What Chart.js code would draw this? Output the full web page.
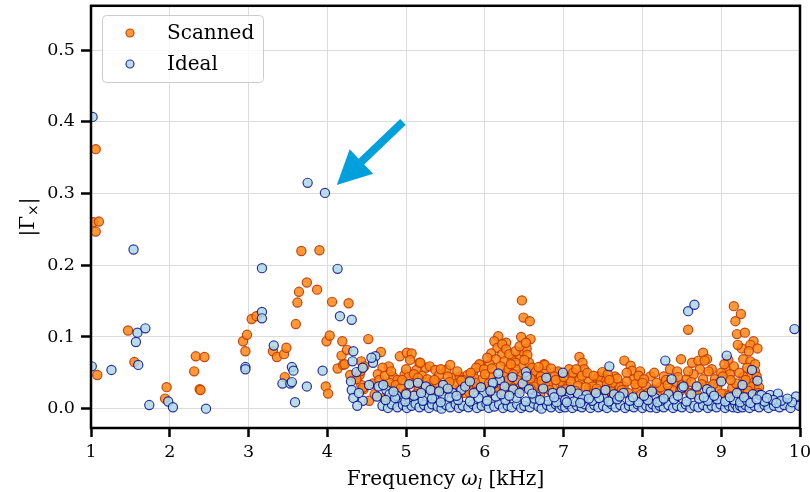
<!DOCTYPE html>
<html>
<head>
<meta charset="utf-8">
<script src="https://cdn.jsdelivr.net/npm/chart.js@4.4.0/dist/chart.umd.min.js"></script>
<style>
  html, body { margin: 0; padding: 0; background: #fff; }
</style>
</head>
<body>
<canvas id="grafico" width="810" height="492"></canvas>
<script>
// Nombres de las series y ticks de los ejes
const nombres = ['Scanned', 'Ideal'];
const ticksX = [1, 2, 3, 4, 5, 6, 7, 8, 9, 10];
const ticksY = [0.0, 0.1, 0.2, 0.3, 0.4, 0.5];

// |Γx| frente a la frecuencia (kHz), pares [x, y]
const scanned = [
  [1.03, 0.260], [1.06, 0.362], [1.06, 0.247], [1.08, 0.047], [1.10, 0.261], [1.47, 0.109], [1.55, 0.065],
  [1.94, 0.014], [1.96, 0.030], [2.31, 0.052], [2.33, 0.073], [2.38, 0.027], [2.39, 0.026], [2.44, 0.072],
  [2.93, 0.094], [2.96, 0.080], [2.98, 0.103], [3.04, 0.125], [3.10, 0.129], [3.31, 0.080], [3.36, 0.072],
  [3.45, 0.076], [3.46, 0.044], [3.48, 0.085], [3.60, 0.118], [3.62, 0.148], [3.64, 0.163], [3.67, 0.220],
  [3.74, 0.176], [3.87, 0.166], [3.90, 0.221], [3.98, 0.031], [3.99, 0.094], [4.01, 0.021], [4.03, 0.102],
  [4.06, 0.149], [4.13, 0.056], [4.18, 0.074], [4.19, 0.094], [4.20, 0.061], [4.25, 0.082], [4.27, 0.147],
  // 4.2 - 6 kHz
  [4.29, 0.047], [4.41, 0.047], [4.43, 0.033], [4.46, 0.027], [4.53, 0.011], [4.52, 0.097], [4.68, 0.079],
  [4.92, 0.073], [5.01, 0.078], [5.07, 0.077], [5.05, 0.068], [5.17, 0.064], [4.78, 0.059], [4.70, 0.057],
  [4.64, 0.048], [4.43, 0.066], [4.47, 0.059], [4.42, 0.052], [4.37, 0.041], [4.45, 0.029], [4.22, 0.062],
  [4.83, 0.045], [4.89, 0.040], [4.98, 0.047], [5.13, 0.054], [5.25, 0.057], [5.30, 0.059], [5.37, 0.054],
  [5.42, 0.047], [5.51, 0.054], [5.56, 0.061], [5.59, 0.043], [5.68, 0.045], [5.78, 0.047], [5.85, 0.050],
  [5.94, 0.061], [5.08, 0.036], [5.21, 0.031], [5.32, 0.038], [5.47, 0.033], [5.76, 0.033], [5.63, 0.026],
  [4.75, 0.031], [4.79, 0.036], [4.85, 0.026], [5.18, 0.064],
  [4.58, 0.035], [4.66, 0.040], [4.73, 0.046], [4.81, 0.052], [4.87, 0.033], [4.93, 0.028], [5.00, 0.055],
  [5.03, 0.044], [5.10, 0.048], [5.16, 0.027], [5.20, 0.046], [5.27, 0.041], [5.33, 0.028], [5.39, 0.036],
  [5.44, 0.055], [5.49, 0.025], [5.53, 0.045], [5.61, 0.034], [5.65, 0.052], [5.72, 0.040], [5.74, 0.022],
  [5.83, 0.029], [5.87, 0.042], [5.96, 0.030],
  // 6 - 7 kHz
  [6.47, 0.151], [6.49, 0.127], [6.57, 0.122], [6.46, 0.100], [6.58, 0.097], [6.17, 0.101], [6.12, 0.094],
  [6.27, 0.092], [6.16, 0.085], [6.08, 0.077], [6.22, 0.076], [6.14, 0.069], [6.25, 0.066], [6.06, 0.062],
  [6.35, 0.069], [6.44, 0.073], [6.48, 0.080], [6.53, 0.084], [6.39, 0.064], [6.48, 0.059], [5.93, 0.062],
  [5.89, 0.057], [5.82, 0.050], [6.75, 0.062], [6.78, 0.052], [6.92, 0.051], [6.67, 0.045], [6.82, 0.041],
  [5.97, 0.041], [6.10, 0.045], [6.27, 0.050], [6.44, 0.048], [6.60, 0.050], [6.65, 0.036], [6.86, 0.029],
  [6.99, 0.031], [6.77, 0.031], [6.52, 0.034], [6.65, 0.022], [6.22, 0.090], [6.27, 0.083], [6.31, 0.076],
  [6.39, 0.080], [6.44, 0.087], [6.52, 0.092], [6.54, 0.075], [6.20, 0.059], [6.30, 0.055], [6.39, 0.055],
  [6.03, 0.071], [5.99, 0.055], [6.56, 0.064], [6.60, 0.057], [6.65, 0.052], [6.76, 0.061], [6.93, 0.052],
  [6.00, 0.048], [6.04, 0.022], [6.09, 0.056], [6.15, 0.038], [6.19, 0.030], [6.24, 0.045], [6.28, 0.035],
  [6.33, 0.062], [6.36, 0.048], [6.41, 0.040], [6.45, 0.030], [6.50, 0.068], [6.55, 0.040], [6.62, 0.031],
  [6.68, 0.058], [6.71, 0.045], [6.80, 0.034], [6.84, 0.056], [6.88, 0.045], [6.97, 0.038],
  // 7 - 8 kHz
  [7.07, 0.055], [7.20, 0.072], [7.24, 0.064], [7.26, 0.055], [7.11, 0.045], [7.20, 0.041], [7.32, 0.038],
  [7.43, 0.043], [7.47, 0.036], [7.32, 0.027], [7.07, 0.022], [7.12, 0.050], [7.05, 0.031], [7.16, 0.055],
  [7.77, 0.067], [7.85, 0.060], [7.87, 0.053], [7.97, 0.052], [7.65, 0.045], [7.89, 0.041], [7.93, 0.029],
  [7.76, 0.031], [7.51, 0.043], [7.55, 0.034], [7.63, 0.027], [7.53, 0.022], [7.44, 0.045], [7.37, 0.031],
  [7.71, 0.031], [7.03, 0.027], [7.09, 0.038], [7.18, 0.032], [7.23, 0.046], [7.30, 0.050], [7.35, 0.020],
  [7.42, 0.028], [7.49, 0.051], [7.56, 0.048], [7.62, 0.036], [7.68, 0.042], [7.74, 0.026], [7.80, 0.050],
  [7.91, 0.034], [7.95, 0.046],
  // 8 - 9.5 kHz
  [8.10, 0.045], [8.05, 0.031], [8.58, 0.110], [8.49, 0.069], [8.35, 0.055], [8.27, 0.045], [8.44, 0.052],
  [8.63, 0.064], [8.71, 0.067], [8.77, 0.078], [8.82, 0.069], [8.73, 0.055], [8.56, 0.041], [8.41, 0.036],
  [8.65, 0.048], [8.77, 0.041], [8.82, 0.031], [8.14, 0.027], [8.27, 0.024], [8.20, 0.017], [8.79, 0.067],
  [8.88, 0.055], [8.92, 0.041], [9.07, 0.055], [9.16, 0.059], [9.09, 0.068], [9.14, 0.029], [9.05, 0.020],
  [8.97, 0.036], [9.16, 0.143], [9.25, 0.132], [9.18, 0.122], [9.20, 0.104], [9.30, 0.106], [9.41, 0.094],
  [9.37, 0.089], [9.46, 0.084], [9.26, 0.084], [9.21, 0.089], [9.35, 0.080], [9.28, 0.069], [9.37, 0.066],
  [9.43, 0.062], [9.33, 0.057], [9.43, 0.052], [9.37, 0.045], [9.41, 0.036], [9.43, 0.027], [9.37, 0.031],
  [9.28, 0.045], [9.26, 0.029], [8.02, 0.041], [8.07, 0.022], [8.15, 0.050], [8.23, 0.030], [8.30, 0.040],
  [8.38, 0.026], [8.45, 0.044], [8.53, 0.030], [8.58, 0.052], [8.68, 0.028], [8.75, 0.034], [8.84, 0.052],
  [8.95, 0.028], [9.00, 0.050], [9.04, 0.062], [9.11, 0.048], [9.19, 0.035], [9.23, 0.050], [9.31, 0.040],
  [9.34, 0.025], [9.45, 0.045], [9.48, 0.030],
  // franja inferior
  [4.60, 0.020], [4.72, 0.015], [4.88, 0.018], [5.00, 0.022], [5.12, 0.020], [5.28, 0.024], [5.40, 0.021],
  [5.52, 0.026], [5.66, 0.018], [5.80, 0.023], [5.90, 0.030], [6.02, 0.028], [6.13, 0.025], [6.24, 0.022],
  [6.34, 0.030], [6.42, 0.024], [6.58, 0.028], [6.70, 0.020], [6.82, 0.026], [6.95, 0.021], [7.15, 0.025],
  [7.28, 0.030], [7.40, 0.020], [7.60, 0.024], [7.70, 0.018], [7.82, 0.022], [7.98, 0.020], [8.11, 0.018],
  [8.34, 0.020], [8.48, 0.025], [8.60, 0.022], [8.70, 0.019], [8.86, 0.024], [9.00, 0.021], [9.10, 0.018],
  [9.22, 0.020], [9.32, 0.016], [9.47, 0.022], [4.95, 0.040], [5.15, 0.043], [5.36, 0.040], [5.55, 0.037],
  [5.70, 0.039], [5.88, 0.036], [6.05, 0.035], [6.30, 0.040], [6.58, 0.042], [6.72, 0.039], [6.90, 0.040],
  [7.00, 0.044], [7.38, 0.046], [7.58, 0.040], [7.80, 0.038], [8.00, 0.036], [8.18, 0.036], [8.32, 0.033],
  [8.50, 0.033], [8.62, 0.037], [8.90, 0.034], [9.02, 0.045], [9.12, 0.040]
];

const ideal = [
  [1.02, 0.407], [1.01, 0.059], [1.26, 0.054], [1.54, 0.222], [1.57, 0.093], [1.59, 0.106], [1.60, 0.061],
  [1.69, 0.112], [1.74, 0.005], [1.98, 0.010], [2.04, 0.002], [2.46, 0.000], [2.96, 0.058], [2.96, 0.055],
  [3.17, 0.196], [3.17, 0.135], [3.17, 0.126], [3.32, 0.088], [3.43, 0.035], [3.53, 0.035], [3.55, 0.058],
  [3.55, 0.037], [3.57, 0.053], [3.59, 0.009], [3.74, 0.031], [3.75, 0.315], [3.94, 0.053], [3.97, 0.301],
  [4.13, 0.195], [4.16, 0.129], [4.31, 0.124], [4.33, 0.080], [4.32, 0.066], [4.37, 0.051], [4.30, 0.038],
  [4.31, 0.026], [4.33, 0.015], [4.45, 0.011], [4.61, 0.073], [4.58, 0.064], [4.56, 0.071], [4.45, 0.057],
  [4.53, 0.033], [4.65, 0.031], [4.63, 0.017], [4.75, 0.026], [4.71, 0.033], [4.79, 0.020], [4.40, 0.022],
  [4.38, 0.004],
  // 5 - 7 kHz
  [5.04, 0.034], [5.15, 0.036], [5.25, 0.031], [5.04, 0.008], [5.15, 0.013], [5.27, 0.017], [5.38, 0.013],
  [5.47, 0.017], [5.47, 0.033], [5.59, 0.022], [5.70, 0.026], [5.75, 0.031], [5.81, 0.038], [5.99, 0.022],
  [4.94, 0.013], [4.88, 0.018], [6.11, 0.035], [6.19, 0.040], [6.17, 0.049], [6.10, 0.036], [6.25, 0.031],
  [6.35, 0.044], [6.36, 0.027], [6.48, 0.035], [6.52, 0.051], [6.53, 0.045], [6.56, 0.027], [6.65, 0.017],
  [6.74, 0.028], [6.78, 0.043], [6.86, 0.022], [6.94, 0.015], [6.99, 0.050],
  // 7 - 10 kHz
  [7.07, 0.017], [7.18, 0.021], [7.29, 0.019], [7.51, 0.015], [7.58, 0.059], [7.64, 0.020], [7.76, 0.022],
  [8.16, 0.015], [8.29, 0.067], [8.33, 0.020], [8.37, 0.041], [8.50, 0.029], [8.52, 0.031], [8.58, 0.136],
  [8.66, 0.145], [8.69, 0.031], [8.82, 0.027], [8.87, 0.024], [9.00, 0.038], [9.07, 0.074], [9.27, 0.033],
  [9.39, 0.054], [9.40, 0.020], [9.46, 0.039], [9.49, 0.019], [9.51, 0.019], [9.62, 0.019], [9.72, 0.021],
  [9.82, 0.008], [9.93, 0.111], [9.95, 0.017], [10.0, 0.006],
  // franja inferior
  [4.70, 0.004], [4.77, 0.001], [4.82, 0.006], [4.89, 0.002], [4.96, 0.005], [5.01, 0.001], [5.07, 0.004],
  [5.12, 0.007], [5.17, 0.002], [5.23, 0.005], [5.29, 0.001], [5.33, 0.006], [5.40, 0.003], [5.45, 0.000],
  [5.51, 0.005], [5.56, 0.002], [5.63, 0.006], [5.67, 0.001], [5.72, 0.004], [5.79, 0.002], [5.85, 0.006],
  [5.90, 0.001], [5.96, 0.004], [6.02, 0.007], [6.05, 0.001], [6.12, 0.003], [6.18, 0.006], [6.23, 0.001],
  [6.29, 0.004], [6.34, 0.002], [6.41, 0.006], [6.46, 0.001], [6.50, 0.004], [6.57, 0.002], [6.62, 0.007],
  [6.68, 0.003], [6.72, 0.000], [6.79, 0.005], [6.84, 0.002], [6.90, 0.006], [6.95, 0.001], [6.98, 0.004],
  [7.02, 0.002], [7.06, 0.006], [7.11, 0.001], [7.17, 0.004], [7.23, 0.002], [7.27, 0.006], [7.34, 0.001],
  [7.39, 0.005], [7.44, 0.002], [7.50, 0.004], [7.55, 0.001], [7.61, 0.006], [7.66, 0.002], [7.72, 0.005],
  [7.78, 0.001], [7.83, 0.004], [7.89, 0.002], [7.94, 0.006], [8.00, 0.001], [8.05, 0.004], [8.10, 0.002],
  [8.13, 0.006], [8.18, 0.001], [8.22, 0.004], [8.27, 0.002], [8.33, 0.005], [8.39, 0.001], [8.44, 0.004],
  [8.50, 0.002], [8.55, 0.006], [8.61, 0.001], [8.66, 0.004], [8.71, 0.002], [8.77, 0.005], [8.83, 0.001],
  [8.88, 0.004], [8.94, 0.002], [8.99, 0.006], [9.05, 0.001], [9.10, 0.004], [9.15, 0.002], [9.18, 0.006],
  [9.21, 0.001], [9.24, 0.004], [9.27, 0.002], [9.31, 0.005], [9.36, 0.001], [9.42, 0.004], [9.48, 0.002],
  [9.55, 0.005], [9.60, 0.001], [9.67, 0.004], [9.74, 0.002], [9.80, 0.005], [9.88, 0.001], [9.99, 0.004],
  [4.74, 0.012], [4.86, 0.015], [4.99, 0.010], [5.10, 0.018], [5.21, 0.011], [5.33, 0.014], [5.44, 0.009],
  [5.55, 0.016], [5.66, 0.012], [5.81, 0.010], [5.92, 0.015], [6.03, 0.011], [6.14, 0.017], [6.26, 0.012],
  [6.40, 0.015], [6.52, 0.010], [6.63, 0.014], [6.80, 0.011], [6.91, 0.009], [7.02, 0.012], [7.13, 0.010],
  [7.24, 0.013], [7.36, 0.011], [7.45, 0.015], [7.57, 0.010], [7.68, 0.013], [7.84, 0.011], [7.95, 0.009],
  [8.07, 0.012], [8.23, 0.011], [8.40, 0.013], [8.56, 0.010], [8.72, 0.014], [8.83, 0.011], [8.95, 0.013],
  [9.05, 0.010], [9.16, 0.012], [9.24, 0.009], [9.33, 0.011], [9.55, 0.010], [9.66, 0.012], [9.76, 0.011],
  [9.90, 0.009], [4.84, 0.024], [5.00, 0.020], [5.19, 0.022], [5.31, 0.026], [5.42, 0.024], [5.53, 0.028],
  [5.64, 0.018], [5.86, 0.022], [5.95, 0.030], [6.07, 0.025], [6.21, 0.020], [6.31, 0.018], [6.44, 0.022],
  [6.60, 0.021], [6.70, 0.012], [6.88, 0.016], [6.97, 0.024], [7.04, 0.009], [7.09, 0.026], [7.21, 0.008],
  [7.32, 0.014], [7.41, 0.022], [7.53, 0.026], [7.71, 0.017], [7.88, 0.016], [8.02, 0.018], [8.12, 0.024],
  [8.19, 0.009], [8.27, 0.014], [8.45, 0.018], [8.62, 0.020], [8.78, 0.016], [8.91, 0.018], [9.11, 0.016],
  [9.20, 0.022], [9.29, 0.016], [9.37, 0.008], [9.45, 0.013], [9.58, 0.015], [9.70, 0.008], [9.84, 0.014]
];

// Flecha que señala el punto ideal cerca de 4 kHz (coordenadas de datos)
const flechaInicio = [4.96, 0.400];
const flechaFin = [4.12, 0.312];

const colores = {
  scannedFondo: 'rgba(255, 135, 20, 0.85)',
  scannedBorde: 'rgba(190, 55, 0, 0.9)',
  idealFondo: 'rgba(173, 216, 230, 0.85)',
  idealBorde: 'rgba(0, 0, 139, 0.8)',
  flecha: '#00a0dc'
};

const fuente = 'DejaVu Serif';
Chart.defaults.font.family = fuente;
Chart.defaults.color = '#000';

const aPuntos = arr => arr.map(([x, y]) => ({ x, y }));

const decoracion = {
  id: 'decoracion',
  afterDatasetsDraw(chart) {
    const { ctx, scales: { x, y } } = chart;
    const x0 = x.getPixelForValue(flechaInicio[0]), y0 = y.getPixelForValue(flechaInicio[1]);
    const x1 = x.getPixelForValue(flechaFin[0]), y1 = y.getPixelForValue(flechaFin[1]);
    const ang = Math.atan2(y1 - y0, x1 - x0);
    const nx = -Math.sin(ang), ny = Math.cos(ang);
    const cabeza = 34, anchoCabeza = 17, anchoCuerpo = 4;
    const bx = x1 - cabeza * Math.cos(ang), by = y1 - cabeza * Math.sin(ang);
    ctx.save();
    ctx.fillStyle = colores.flecha;
    ctx.beginPath();
    ctx.moveTo(x0 + nx * anchoCuerpo, y0 + ny * anchoCuerpo);
    ctx.lineTo(bx + nx * anchoCuerpo, by + ny * anchoCuerpo);
    ctx.lineTo(bx + nx * anchoCabeza, by + ny * anchoCabeza);
    ctx.lineTo(x1, y1);
    ctx.lineTo(bx - nx * anchoCabeza, by - ny * anchoCabeza);
    ctx.lineTo(bx - nx * anchoCuerpo, by - ny * anchoCuerpo);
    ctx.lineTo(x0 - nx * anchoCuerpo, y0 - ny * anchoCuerpo);
    ctx.closePath();
    ctx.fill();
    ctx.restore();
  },
  afterDraw(chart) {
    const { ctx, chartArea: a } = chart;
    ctx.save();

    // marco negro alrededor del área
    ctx.strokeStyle = '#000';
    ctx.lineWidth = 2.5;
    ctx.strokeRect(a.left, a.top, a.right - a.left, a.bottom - a.top);

    // leyenda
    const lx = 102, ly = 15, lw = 161, lh = 67;
    ctx.beginPath();
    ctx.roundRect(lx + 0.5, ly + 0.5, lw, lh, 4);
    ctx.fillStyle = 'rgba(255,255,255,0.8)';
    ctx.fill();
    ctx.strokeStyle = '#cccccc';
    ctx.lineWidth = 1;
    ctx.stroke();
    const items = [
      [nombres[0], colores.scannedFondo, colores.scannedBorde, 33],
      [nombres[1], colores.idealFondo, colores.idealBorde, 64]
    ];
    ctx.font = `20px "${fuente}"`;
    ctx.textBaseline = 'middle';
    items.forEach(([texto, fondo, borde, yy]) => {
      ctx.beginPath();
      ctx.arc(130, yy, 4, 0, Math.PI * 2);
      ctx.fillStyle = fondo;
      ctx.fill();
      ctx.strokeStyle = borde;
      ctx.lineWidth = 1.2;
      ctx.stroke();
      ctx.fillStyle = '#000';
      ctx.textAlign = 'left';
      ctx.fillText(texto, 167, yy + 1);
    });

    // título del eje x: Frequency ω_l [kHz]
    ctx.textBaseline = 'alphabetic';
    ctx.fillStyle = '#000';
    const partesX = [
      ['Frequency ', `20px "${fuente}"`, 0],
      ['ω', `italic 20px "${fuente}"`, 0],
      ['l', `italic 14px "${fuente}"`, 4],
      [' [kHz]', `20px "${fuente}"`, 0]
    ];
    let total = 0;
    partesX.forEach(([t, f]) => { ctx.font = f; total += ctx.measureText(t).width; });
    let cx = (a.left + a.right) / 2 - total / 2;
    partesX.forEach(([t, f, dy]) => {
      ctx.font = f;
      ctx.textAlign = 'left';
      ctx.fillText(t, cx, 485 + dy);
      cx += ctx.measureText(t).width;
    });

    // título del eje y: |Γ×|
    ctx.translate(34, 217);
    ctx.rotate(-Math.PI / 2);
    const partesY = [
      ['|Γ', `20px "${fuente}"`, 0],
      ['×', `14px "${fuente}"`, 4],
      ['|', `20px "${fuente}"`, 0]
    ];
    total = 0;
    partesY.forEach(([t, f]) => { ctx.font = f; total += ctx.measureText(t).width; });
    cx = -total / 2;
    partesY.forEach(([t, f, dy]) => {
      ctx.font = f;
      ctx.fillText(t, cx, dy);
      cx += ctx.measureText(t).width;
    });
    ctx.restore();
  }
};

new Chart(document.getElementById('grafico'), {
  type: 'scatter',
  data: {
    datasets: [
      {
        label: nombres[0],
        data: aPuntos(scanned),
        backgroundColor: colores.scannedFondo,
        borderColor: colores.scannedBorde,
        borderWidth: 1.2,
        pointRadius: 4.6,
        order: 2
      },
      {
        label: nombres[1],
        data: aPuntos(ideal),
        backgroundColor: colores.idealFondo,
        borderColor: colores.idealBorde,
        borderWidth: 1.2,
        pointRadius: 4.6,
        order: 1
      }
    ]
  },
  options: {
    responsive: false,
    animation: false,
    layout: { padding: { top: 5, right: 10, bottom: 0, left: 0 } },
    plugins: {
      legend: { display: false },
      tooltip: { enabled: false }
    },
    scales: {
      x: {
        type: 'linear',
        min: 1,
        max: 10,
        afterBuildTicks: s => { s.ticks = ticksX.map(v => ({ value: v })); },
        afterFit: s => { s.height = 64; s.paddingLeft = 0; s.paddingRight = 0; },
        ticks: { font: { size: 17.5 }, padding: 5, maxRotation: 0, callback: v => String(v) },
        grid: { color: '#dcdcdc', lineWidth: 1, tickColor: '#000', tickWidth: 2.5, tickLength: 9 },
        border: { display: false }
      },
      y: {
        type: 'linear',
        min: -0.027,
        max: 0.562,
        afterBuildTicks: s => { s.ticks = ticksY.map(v => ({ value: v })); },
        afterFit: s => { s.width = 91; s.paddingTop = 0; s.paddingBottom = 0; },
        ticks: { font: { size: 17.5 }, padding: 6, callback: v => v.toFixed(1) },
        grid: { color: '#dcdcdc', lineWidth: 1, tickColor: '#000', tickWidth: 2.5, tickLength: 10 },
        border: { display: false }
      }
    }
  },
  plugins: [decoracion]
});
</script>
</body>
</html>
